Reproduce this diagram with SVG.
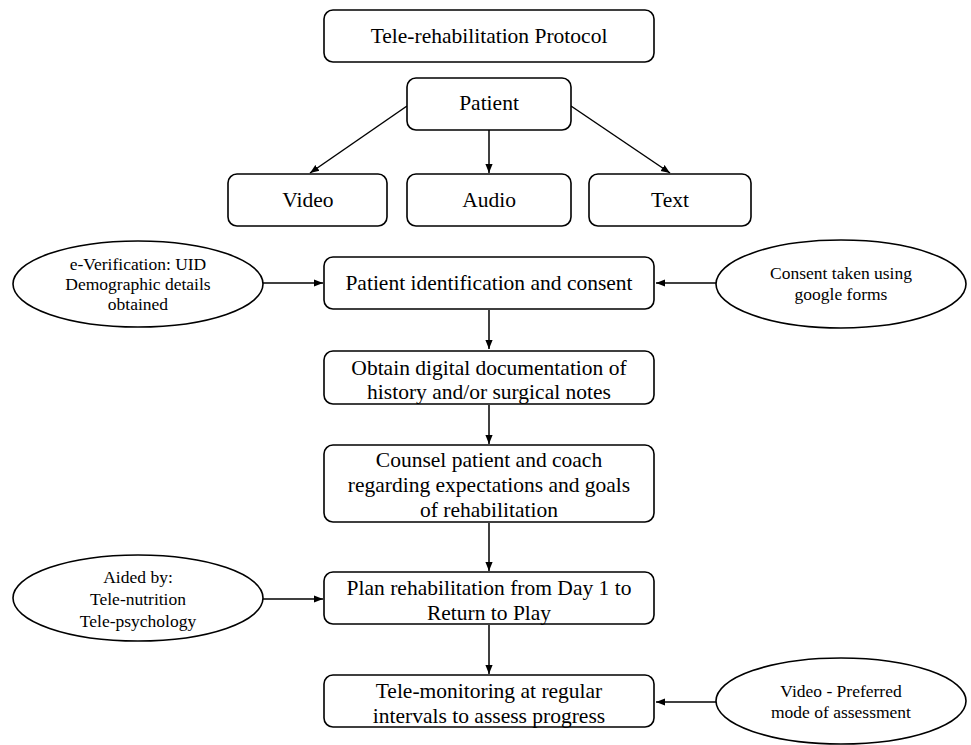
<svg xmlns="http://www.w3.org/2000/svg" width="971" height="745" viewBox="0 0 971 745">
<style>
.box{fill:#fff;stroke:#000;stroke-width:1.6}
.ell{fill:#fff;stroke:#000;stroke-width:1.6}
.t{font-family:"Liberation Serif","Times New Roman",serif;font-size:21.5px;fill:#000;text-anchor:middle}
.s{font-family:"Liberation Serif","Times New Roman",serif;font-size:17.5px;fill:#000;text-anchor:middle}
.c{stroke:#000;stroke-width:1.5;fill:none;marker-end:url(#ah)}
</style>
<defs>
<marker id="ah" viewBox="0 0 10 10" refX="10" refY="5" markerWidth="9" markerHeight="9" markerUnits="userSpaceOnUse" orient="auto">
<path d="M0,1 L10,5 L0,9 z" fill="#000"/>
</marker>
</defs>
<rect width="971" height="745" fill="#fff"/>
<g id="connectors">
<line class="c" x1="407" y1="106" x2="310" y2="173"/>
<line class="c" x1="489" y1="130" x2="489" y2="173"/>
<line class="c" x1="571" y1="106" x2="670" y2="173"/>
<line class="c" x1="263" y1="283" x2="323" y2="283"/>
<line class="c" x1="716" y1="283" x2="656" y2="283"/>
<line class="c" x1="489" y1="310" x2="489" y2="349"/>
<line class="c" x1="489" y1="405" x2="489" y2="444"/>
<line class="c" x1="489" y1="523" x2="489" y2="571"/>
<line class="c" x1="263" y1="599" x2="323" y2="599"/>
<line class="c" x1="489" y1="625" x2="489" y2="674"/>
<line class="c" x1="716" y1="702" x2="656" y2="702"/>
</g>
<g id="title"><rect class="box" x="324" y="10" width="330" height="52" rx="9"/><text class="t" x="489" y="43">Tele-rehabilitation Protocol</text></g>
<g id="patient"><rect class="box" x="407" y="78" width="164" height="52" rx="9"/><text class="t" x="489" y="110">Patient</text></g>
<g id="video"><rect class="box" x="228" y="174" width="159" height="52" rx="9"/><text class="t" x="308" y="207">Video</text></g>
<g id="audio"><rect class="box" x="407" y="174" width="164" height="52" rx="9"/><text class="t" x="489" y="207">Audio</text></g>
<g id="text"><rect class="box" x="589" y="174" width="162" height="52" rx="9"/><text class="t" x="670" y="207">Text</text></g>
<g id="identification"><rect class="box" x="324" y="257" width="330" height="52" rx="9"/><text class="t" x="489" y="290">Patient identification and consent</text></g>
<g id="documentation"><rect class="box" x="324" y="351" width="330" height="53" rx="9"/><text class="t" x="489" y="375">Obtain digital documentation of</text><text class="t" x="489" y="399">history and/or surgical notes</text></g>
<g id="counsel"><rect class="box" x="324" y="445" width="330" height="77" rx="9"/><text class="t" x="489" y="467">Counsel patient and coach</text><text class="t" x="489" y="492">regarding expectations and goals</text><text class="t" x="489" y="517">of rehabilitation</text></g>
<g id="plan"><rect class="box" x="324" y="572" width="330" height="52" rx="9"/><text class="t" x="489" y="595">Plan rehabilitation from Day 1 to</text><text class="t" x="489" y="620">Return to Play</text></g>
<g id="monitoring"><rect class="box" x="324" y="675" width="330" height="52" rx="9"/><text class="t" x="489" y="698">Tele-monitoring at regular</text><text class="t" x="489" y="723">intervals to assess progress</text></g>
<g id="everification"><ellipse class="ell" cx="138" cy="284" rx="125" ry="43"/><text class="s" x="138" y="270">e-Verification: UID</text><text class="s" x="138" y="290">Demographic details</text><text class="s" x="138" y="310">obtained</text></g>
<g id="consentforms"><ellipse class="ell" cx="841" cy="284" rx="125" ry="44"/><text class="s" x="841" y="279">Consent taken using</text><text class="s" x="841" y="300">google forms</text></g>
<g id="aided"><ellipse class="ell" cx="138" cy="598" rx="125" ry="43"/><text class="s" x="138" y="583">Aided by:</text><text class="s" x="138" y="605">Tele-nutrition</text><text class="s" x="138" y="627">Tele-psychology</text></g>
<g id="videopreferred"><ellipse class="ell" cx="841" cy="701" rx="125" ry="43"/><text class="s" x="841" y="697">Video - Preferred</text><text class="s" x="841" y="718">mode of assessment</text></g>
</svg>
